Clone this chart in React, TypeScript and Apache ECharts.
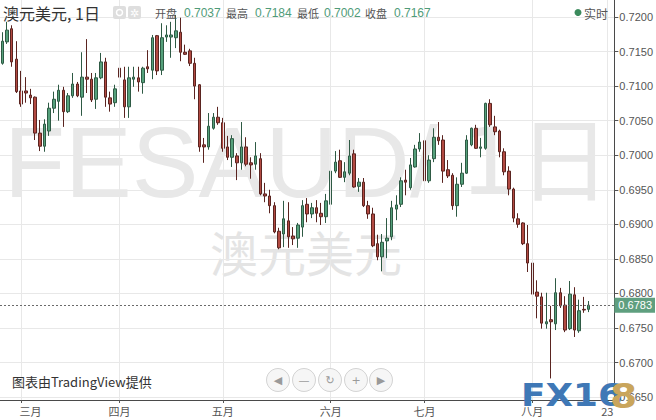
import React, { useEffect, useRef } from "react";
import * as echarts from "echarts";

// ---------- data ----------
const FIRST_DAY = "2019-02-25";
const DAY_COUNT = 131; // trading days shown on the axis (last ones are still empty)

const monthTickDates = ["2019-03-01", "2019-04-01", "2019-05-01", "2019-06-03", "2019-07-01", "2019-08-01", "2019-08-23"];
const monthTickLabels = ["三月", "四月", "五月", "六月", "七月", "八月", "23"];

const opens = [
  0.7133, 0.7164, 0.7183, 0.7139, 0.7093, 0.7093, 0.7087, 0.7084, 0.7032, 0.7013,
  0.7035, 0.7068, 0.7078, 0.7094, 0.7063, 0.7086, 0.7103, 0.7084, 0.7113, 0.7110,
  0.7081, 0.7112, 0.7135, 0.7083, 0.7076, 0.7126, 0.7109, 0.7070, 0.7110, 0.7112,
  0.7105, 0.7128, 0.7123, 0.7173, 0.7123, 0.7171, 0.7171, 0.7170, 0.7178, 0.7149,
  0.7151, 0.7133, 0.7102, 0.7015, 0.7012, 0.7039, 0.7055, 0.7047, 0.7012, 0.6997,
  0.6999, 0.6989, 0.7012, 0.6989, 0.6987, 0.6995, 0.6944, 0.6941, 0.6927, 0.6890,
  0.6886, 0.6905, 0.6883, 0.6880, 0.6896, 0.6929, 0.6915, 0.6924, 0.6916, 0.6911,
  0.6929, 0.6977, 0.6992, 0.6968, 0.6974, 0.7002, 0.6955, 0.6961, 0.6927, 0.6915,
  0.6872, 0.6853, 0.6876, 0.6882, 0.6922, 0.6929, 0.6964, 0.6953, 0.6983, 0.7009,
  0.7021, 0.6963, 0.6995, 0.7026, 0.7022, 0.6979, 0.6971, 0.6927, 0.6958, 0.6974,
  0.7015, 0.7039, 0.7010, 0.7010, 0.7075, 0.7041, 0.7035, 0.7005, 0.6977, 0.6951,
  0.6908, 0.6902, 0.6872, 0.6844, 0.6802, 0.6795, 0.6756, 0.6762, 0.6756, 0.6801,
  0.6783, 0.6749, 0.6798, 0.6746, 0.6777, 0.6777,
];
const highs = [
  0.7178, 0.7193, 0.7188, 0.7165, 0.7122, 0.7113, 0.7096, 0.7085, 0.7051, 0.7052,
  0.7076, 0.7092, 0.7102, 0.7099, 0.7090, 0.7119, 0.7106, 0.7149, 0.7168, 0.7119,
  0.7119, 0.7148, 0.7141, 0.7092, 0.7102, 0.7133, 0.7128, 0.7128, 0.7128, 0.7128,
  0.7128, 0.7152, 0.7174, 0.7174, 0.7191, 0.7188, 0.7193, 0.7203, 0.7199, 0.7160,
  0.7154, 0.7141, 0.7103, 0.7025, 0.7061, 0.7061, 0.7070, 0.7054, 0.7028, 0.7029,
  0.7003, 0.7048, 0.7026, 0.6997, 0.7019, 0.7003, 0.6960, 0.6950, 0.6932, 0.6895,
  0.6934, 0.6932, 0.6896, 0.6902, 0.6935, 0.6938, 0.6931, 0.6935, 0.6931, 0.6944,
  0.6983, 0.7006, 0.7008, 0.6990, 0.7022, 0.7008, 0.6967, 0.6967, 0.6934, 0.6924,
  0.6885, 0.6886, 0.6909, 0.6934, 0.6942, 0.6968, 0.6979, 0.6996, 0.7015, 0.7032,
  0.7034, 0.7000, 0.7039, 0.7048, 0.7029, 0.6993, 0.6974, 0.6968, 0.6989, 0.7029,
  0.7040, 0.7044, 0.7025, 0.7076, 0.7081, 0.7057, 0.7037, 0.7010, 0.6984, 0.6953,
  0.6916, 0.6903, 0.6899, 0.6863, 0.6819, 0.6801, 0.6801, 0.6782, 0.6822, 0.6808,
  0.6796, 0.6818, 0.6809, 0.6791, 0.6795, 0.6789,
];
const lows = [
  0.7131, 0.7161, 0.7128, 0.7090, 0.7070, 0.7076, 0.7074, 0.7022, 0.7006, 0.7005,
  0.7028, 0.7061, 0.7050, 0.7041, 0.7061, 0.7083, 0.7084, 0.7057, 0.7090, 0.7077,
  0.7067, 0.7110, 0.7070, 0.7063, 0.7070, 0.7105, 0.7054, 0.7054, 0.7099, 0.7092,
  0.7089, 0.7119, 0.7110, 0.7116, 0.7116, 0.7164, 0.7141, 0.7155, 0.7136, 0.7145,
  0.7129, 0.7081, 0.7005, 0.6989, 0.7008, 0.7037, 0.7044, 0.7005, 0.6993, 0.6983,
  0.6964, 0.6979, 0.6984, 0.6966, 0.6979, 0.6942, 0.6932, 0.6916, 0.6887, 0.6864,
  0.6867, 0.6866, 0.6870, 0.6866, 0.6882, 0.6903, 0.6909, 0.6903, 0.6899, 0.6902,
  0.6928, 0.6974, 0.6967, 0.6961, 0.6971, 0.6953, 0.6947, 0.6925, 0.6908, 0.6867,
  0.6848, 0.6832, 0.6851, 0.6877, 0.6906, 0.6925, 0.6942, 0.6950, 0.6982, 0.7005,
  0.6957, 0.6960, 0.6990, 0.7015, 0.6960, 0.6967, 0.6921, 0.6911, 0.6954, 0.6973,
  0.7013, 0.7009, 0.6997, 0.7008, 0.7041, 0.7029, 0.6997, 0.6971, 0.6942, 0.6903,
  0.6895, 0.6870, 0.6831, 0.6795, 0.6764, 0.6749, 0.6749, 0.6677, 0.6747, 0.6779,
  0.6744, 0.6747, 0.6737, 0.6743, 0.6772, 0.6773,
];
const closes = [
  0.7165, 0.7181, 0.7135, 0.7092, 0.7074, 0.7090, 0.7083, 0.7032, 0.7013, 0.7045,
  0.7068, 0.7081, 0.7094, 0.7063, 0.7086, 0.7103, 0.7086, 0.7113, 0.7110, 0.7080,
  0.7112, 0.7135, 0.7084, 0.7074, 0.7096, 0.7113, 0.7070, 0.7112, 0.7113, 0.7106,
  0.7126, 0.7125, 0.7170, 0.7122, 0.7170, 0.7174, 0.7174, 0.7180, 0.7149, 0.7146,
  0.7133, 0.7100, 0.7012, 0.7012, 0.7042, 0.7055, 0.7047, 0.7010, 0.6997, 0.7024,
  0.6989, 0.7012, 0.6987, 0.6986, 0.6999, 0.6944, 0.6941, 0.6927, 0.6889, 0.6866,
  0.6908, 0.6882, 0.6879, 0.6899, 0.6927, 0.6915, 0.6924, 0.6916, 0.6911, 0.6934,
  0.6977, 0.6990, 0.6968, 0.6976, 0.6999, 0.6954, 0.6961, 0.6927, 0.6915, 0.6869,
  0.6853, 0.6874, 0.6880, 0.6924, 0.6928, 0.6963, 0.6961, 0.6986, 0.7009, 0.7019,
  0.6963, 0.6993, 0.7026, 0.7021, 0.6977, 0.6970, 0.6927, 0.6958, 0.6974, 0.7022,
  0.7039, 0.7010, 0.7012, 0.7075, 0.7044, 0.7034, 0.7005, 0.6976, 0.6951, 0.6909,
  0.6900, 0.6872, 0.6844, 0.6799, 0.6796, 0.6757, 0.6759, 0.6759, 0.6801, 0.6782,
  0.6747, 0.6799, 0.6747, 0.6775, 0.6776, 0.6783,
];

const lastPrice = 0.6783;
const yMin = 0.66458;
const yMax = 0.72246;
const yStep = 0.005;

const headerTitle = "澳元美元, 1日";
const quoteNames = ["开盘", "最高", "最低", "收盘"];
const quoteValues = ["0.7037", "0.7184", "0.7002", "0.7167"];
const liveText = "实时";
const watermarkParts = ["FESAUD", "/", "1日"];
const watermarkSub = "澳元美元";
const creditText = "图表由TradingView提供";
const navIcons = ["◀", "—", "↻", "+", "▶"];
const logoBlue = "FX16";
const logoGold = "8";

// ---------- layout / style ----------
const W = 656;
const H = 420;
const FONT = "Arial, 'Liberation Sans', 'Noto Sans CJK SC', sans-serif";
const CJK = "'Noto Sans CJK SC', Arial, sans-serif";
const quoteNameX = [155, 226, 297, 365];
const quoteValueX = [184, 255, 324, 394];
const navX = [278, 304, 330, 356, 381];
const watermarkX = [4, 410, 460];
const watermarkSize = [100, 100, 92];
const watermarkFont = [FONT, FONT, "'DejaVu Sans', 'Noto Sans CJK SC', sans-serif"];
const GREEN_TEXT = "#4f9b78";
const WM = "#e8e8e8";

function weekdays(start: string, count: number): string[] {
  const out: string[] = [];
  const d = new Date(start + "T00:00:00Z");
  while (out.length < count) {
    const wd = d.getUTCDay();
    if (wd !== 0 && wd !== 6) out.push(d.toISOString().slice(0, 10));
    d.setUTCDate(d.getUTCDate() + 1);
  }
  return out;
}

function buildOption() {
  const dates = weekdays(FIRST_DAY, DAY_COUNT);
  const candleData = opens.map((o, i) => [o, closes[i], lows[i], highs[i]]);
  const isMark = (_i: number, v: string) => monthTickDates.indexOf(v) >= 0;

  const graphic: any[] = [
    ...watermarkParts.map((t, i) => ({
      type: "text", x: watermarkX[i], y: 162, z: -5, silent: true,
      style: { text: t, fontSize: watermarkSize[i], fontFamily: watermarkFont[i], fill: WM, textVerticalAlign: "middle" },
    })),
    {
      type: "text", x: 210, y: 251, z: -5, silent: true,
      style: { text: watermarkSub, fontSize: 48, fontFamily: CJK, fill: "#e4e4e4", textVerticalAlign: "middle" },
    },
    {
      type: "text", x: 3, y: 13, z: 50,
      style: { text: headerTitle, fontSize: 16, fontFamily: CJK, fill: "#333", textVerticalAlign: "middle" },
    },
    { type: "rect", z: 50, shape: { x: 113, y: 6, width: 13, height: 13, r: 2 }, style: { fill: "#dedede" } },
    { type: "circle", z: 51, shape: { cx: 119.5, cy: 12.5, r: 3 }, style: { fill: "none", stroke: "#fff", lineWidth: 1.5 } },
    { type: "rect", z: 50, shape: { x: 128, y: 6, width: 13, height: 13, r: 2 }, style: { fill: "#dedede" } },
    {
      type: "text", x: 134.5, y: 13, z: 51,
      style: { text: "✲", fontSize: 11, fontFamily: "DejaVu Sans", fill: "#fff", textAlign: "center", textVerticalAlign: "middle" },
    },
    ...quoteNames.map((t, i) => ({
      type: "text", x: quoteNameX[i], y: 13, z: 50,
      style: { text: t, fontSize: 11, fontFamily: CJK, fill: "#555", textVerticalAlign: "middle" },
    })),
    ...quoteValues.map((t, i) => ({
      type: "text", x: quoteValueX[i], y: 13, z: 50,
      style: { text: t, fontSize: 12, fontFamily: FONT, fill: GREEN_TEXT, textVerticalAlign: "middle" },
    })),
    { type: "circle", z: 50, shape: { cx: 578, cy: 12.5, r: 3.5 }, style: { fill: "#3b8a5c" } },
    {
      type: "text", x: 584, y: 13, z: 50,
      style: { text: liveText, fontSize: 12, fontFamily: CJK, fill: "#555", textVerticalAlign: "middle" },
    },
    {
      type: "text", x: 12, y: 381, z: 50,
      style: { text: creditText, fontSize: 13, fontFamily: CJK, fill: "#333", textVerticalAlign: "middle" },
    },
    ...navIcons.flatMap((ic, i) => [
      { type: "circle", z: 50, shape: { cx: navX[i], cy: 380, r: 11.5 }, style: { fill: "#f6f6f6", stroke: "#d4d4d4", lineWidth: 1 } },
      {
        type: "text", x: navX[i], y: 380, z: 51,
        style: { text: ic, fontSize: 11, fontFamily: "DejaVu Sans", fill: "#9a9a9a", textAlign: "center", textVerticalAlign: "middle" },
      },
    ]),
    {
      type: "text", x: 521, y: 395, z: 60, scaleX: 1.12,
      style: { text: logoBlue, fontSize: 32, fontWeight: "bold", fontFamily: "DejaVu Sans", fill: "#3f78b6", textVerticalAlign: "middle" },
    },
    {
      type: "text", x: 610, y: 396, z: 60, scaleX: 1.15,
      style: { text: logoGold, fontSize: 34, fontWeight: "bold", fontFamily: "DejaVu Sans", fill: "#c9a55c", textVerticalAlign: "middle" },
    },
  ];

  return {
    animation: false,
    backgroundColor: "#ffffff",
    grid: { left: 0, right: 39, top: 0, bottom: 20, containLabel: false },
    xAxis: {
      type: "category",
      data: dates,
      boundaryGap: true,
      axisLine: { show: true, lineStyle: { color: "#4a4a4a", width: 1 } },
      axisTick: { show: true, alignWithLabel: true, interval: isMark, length: 3, lineStyle: { color: "#555" } },
      splitLine: { show: false },
      axisLabel: {
        interval: isMark,
        margin: 5,
        fontSize: 11,
        fontFamily: CJK,
        color: "#555",
        formatter: (v: string) => {
          const i = monthTickDates.indexOf(v);
          if (i < 0) return "";
          if (i === 0) return "{first|" + monthTickLabels[0] + "}";
          return monthTickLabels[i];
        },
        rich: { first: { padding: [0, 0, 0, 19], fontSize: 11, fontFamily: CJK, color: "#555" } },
      },
    },
    yAxis: {
      type: "value",
      position: "right",
      scale: true,
      min: yMin,
      max: yMax,
      splitNumber: 11,
      minInterval: yStep,
      maxInterval: yStep,
      axisLine: { show: true, lineStyle: { color: "#4a4a4a", width: 1 } },
      axisTick: { show: true, length: 4, lineStyle: { color: "#555" } },
      splitLine: { show: true, showMinLine: false, showMaxLine: false, lineStyle: { color: "#e8e8e8", width: 1 } },
      axisLabel: {
        margin: 5,
        fontSize: 11,
        fontFamily: FONT,
        color: "#555",
        showMinLabel: false,
        showMaxLabel: false,
        formatter: (v: number) => {
          const k = v / yStep;
          return Math.abs(k - Math.round(k)) < 1e-6 ? v.toFixed(4) : "";
        },
      },
    },
    graphic,
    series: [
      {
        type: "line",
        data: [],
        z: 1,
        silent: true,
        markLine: {
          silent: true,
          symbol: ["none", "none"],
          label: { show: false },
          lineStyle: { color: "#e8e8e8", type: "solid", width: 1 },
          data: monthTickDates.map((d) => ({ xAxis: d })),
        },
      },
      {
        type: "candlestick",
        z: 3,
        data: candleData,
        barWidth: 3,
        itemStyle: {
          color: "#55a07b",
          color0: "#b24a42",
          borderColor: "#2e5a44",
          borderColor0: "#5a2420",
          borderWidth: 1,
        },
        markLine: {
          silent: true,
          precision: 4,
          symbol: ["none", "none"],
          lineStyle: { color: "#6a6a6a", type: [2, 2], width: 1 },
          label: {
            show: true,
            position: "end",
            distance: 0,
            formatter: () => lastPrice.toFixed(4),
            backgroundColor: "#5f9f7f",
            color: "#ffffff",
            fontSize: 11,
            fontFamily: FONT,
            padding: [2, 3, 2, 4],
          },
          data: [{ yAxis: lastPrice }],
        },
      },
    ],
  };
}

export default function App() {
  const ref = useRef<HTMLDivElement>(null);
  useEffect(() => {
    if (!ref.current) return;
    const chart = echarts.init(ref.current, undefined, { renderer: "svg" });
    chart.setOption(buildOption() as any);
    return () => chart.dispose();
  }, []);
  return (
    <div
      ref={ref}
      style={{ position: "absolute", left: 0, top: 0, width: W, height: H, background: "#fff" }}
    />
  );
}
